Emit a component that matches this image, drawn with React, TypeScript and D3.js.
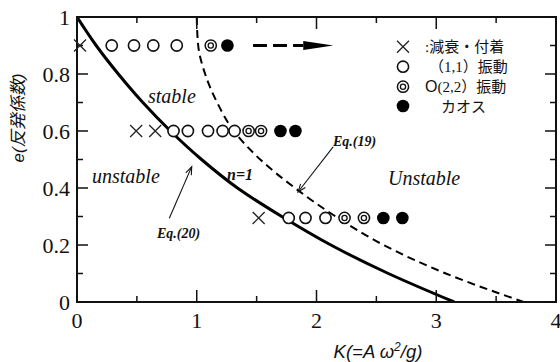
import React from "react";
import * as d3 from "d3";

// ---- data (K, e) ----
const solidK = [0, 0.16, 0.345, 0.55, 0.78, 1.04, 1.34, 1.71, 2.12, 2.6, 3.15];
const solidE = [1, 0.9, 0.8, 0.7, 0.6, 0.5, 0.4, 0.3, 0.2, 0.1, 0];
const dashK = [1.0, 1.012, 1.07, 1.17, 1.31, 1.53, 1.82, 2.16, 2.56, 3.08, 3.73];
const dashE = [1, 0.9, 0.8, 0.7, 0.6, 0.5, 0.4, 0.3, 0.2, 0.1, 0];

const crossK = [0.025, 0.494, 0.653, 1.517];
const crossE = [0.9, 0.6, 0.6, 0.295];
const circleK = [0.29, 0.476, 0.637, 0.833, 0.806, 0.926, 1.094, 1.216, 1.316, 1.768, 1.908, 2.075];
const circleE = [0.9, 0.9, 0.9, 0.9, 0.6, 0.6, 0.6, 0.6, 0.6, 0.295, 0.295, 0.295];
const doubleK = [1.117, 1.433, 1.537, 2.234, 2.396];
const doubleE = [0.9, 0.6, 0.6, 0.295, 0.295];
const chaosK = [1.256, 1.699, 1.824, 2.558, 2.717];
const chaosE = [0.9, 0.6, 0.6, 0.295, 0.295];

const xTicks = [0, 1, 2, 3, 4];
const xMinor = [0.5, 1.5, 2.5, 3.5];
const yTicks = [0, 0.2, 0.4, 0.6, 0.8, 1];
const yTickLabels = ["0", "0.2", "0.4", "0.6", "0.8", "1"];
const yMinor = [0.1, 0.3, 0.5, 0.7, 0.9];

const legendLabels = [":減衰・付着", "（1,1）振動", "(2,2）振動", "カオス"];

const arrowRow = { k0: 1.47, k1: 2.14, e: 0.9 };
const eq20Arrow = { k0: 0.771, e0: 0.294, k1: 0.958, e1: 0.475 };
const eq19Arrow = { k0: 2.139, e0: 0.544, k1: 1.846, e1: 0.386 };

const W = 560, H = 362;
const x = d3.scaleLinear().domain([0, 4]).range([77, 556]);
const y = d3.scaleLinear().domain([0, 1]).range([302, 17]);

const SERIF = "'Liberation Serif', 'Times New Roman', serif";
const SANS = "'Liberation Sans', Arial, sans-serif";
const CJK = "'Liberation Serif', 'Noto Sans CJK JP', serif";

const Cross = ({ cx, cy, s = 6 }: any) => (
  <path d={`M${cx - s},${cy - s}L${cx + s},${cy + s}M${cx - s},${cy + s}L${cx + s},${cy - s}`} stroke="#222" strokeWidth={1.3} fill="none" />
);
const Circ = ({ cx, cy }: any) => <circle cx={cx} cy={cy} r={5.6} fill="#fff" stroke="#111" strokeWidth={1.6} />;
const Dbl = ({ cx, cy }: any) => (
  <g>
    <circle cx={cx} cy={cy} r={5.6} fill="#fff" stroke="#111" strokeWidth={1.5} />
    <circle cx={cx} cy={cy} r={2.6} fill="none" stroke="#111" strokeWidth={1.3} />
  </g>
);
const Dot = ({ cx, cy }: any) => <circle cx={cx} cy={cy} r={6.3} fill="#000" />;

function arrowHead(x0: number, y0: number, x1: number, y1: number, len = 8, half = 3) {
  const a = Math.atan2(y1 - y0, x1 - x0);
  const bx = x1 - len * Math.cos(a), by = y1 - len * Math.sin(a);
  const px = -Math.sin(a) * half, py = Math.cos(a) * half;
  return `M${bx + px},${by + py}L${x1},${y1}L${bx - px},${by - py}`;
}

export default function App() {
  const line = d3
    .line<[number, number]>()
    .x((d) => x(d[0]))
    .y((d) => y(d[1]))
    .curve(d3.curveMonotoneY);
  const solidPts = solidK.map((k, i) => [k, solidE[i]] as [number, number]);
  const dashPts = dashK.map((k, i) => [k, dashE[i]] as [number, number]);

  const [x0, x1] = x.range();
  const [yb, yt] = y.range();

  const ax0 = x(arrowRow.k0), ax1 = x(arrowRow.k1), ay = y(arrowRow.e);
  const headStart = ax1 - 30;

  const e20 = [x(eq20Arrow.k0), y(eq20Arrow.e0), x(eq20Arrow.k1), y(eq20Arrow.e1)];
  const e19 = [x(eq19Arrow.k0), y(eq19Arrow.e0), x(eq19Arrow.k1), y(eq19Arrow.e1)];

  const legX = 403;
  const legY = [46.7, 66.7, 86.7, 106];
  const legTextX = [425, 429, 425, 441];

  return (
    <svg width={W} height={H} style={{ position: "absolute", left: 0, top: 0, background: "#fff" }}>
      <rect width={W} height={H} fill="#fff" />
      <defs>
        <clipPath id="plot">
          <rect x={x0} y={yt} width={x1 - x0} height={yb - yt} />
        </clipPath>
      </defs>

      {/* curves */}
      <g clipPath="url(#plot)">
        <path d={line(solidPts) || ""} fill="none" stroke="#000" strokeWidth={3} />
        <path d={line(dashPts) || ""} fill="none" stroke="#000" strokeWidth={2} strokeDasharray="8,5" />
      </g>

      {/* frame */}
      <rect x={x0} y={yt} width={x1 - x0} height={yb - yt} fill="none" stroke="#111" strokeWidth={2} />

      {/* ticks */}
      {xTicks.map((t) => (
        <g key={"xt" + t}>
          <line x1={x(t)} x2={x(t)} y1={yb} y2={yb - 12} stroke="#111" strokeWidth={1.5} />
          <line x1={x(t)} x2={x(t)} y1={yt} y2={yt + 12} stroke="#111" strokeWidth={1.5} />
          <text x={x(t)} y={328} textAnchor="middle" fontFamily={SERIF} fontSize={22} fill="#111">{t}</text>
        </g>
      ))}
      {xMinor.map((t) => (
        <g key={"xm" + t}>
          <line x1={x(t)} x2={x(t)} y1={yb} y2={yb - 6} stroke="#111" strokeWidth={1.5} />
          <line x1={x(t)} x2={x(t)} y1={yt} y2={yt + 6} stroke="#111" strokeWidth={1.5} />
        </g>
      ))}
      {yTicks.map((t, i) => (
        <g key={"yt" + t}>
          <line x1={x0} x2={x0 + 11} y1={y(t)} y2={y(t)} stroke="#111" strokeWidth={1.5} />
          <line x1={x1} x2={x1 - 11} y1={y(t)} y2={y(t)} stroke="#111" strokeWidth={1.5} />
          <text x={70} y={y(t) + 7.5} textAnchor="end" fontFamily={SERIF} fontSize={22} fill="#111">{yTickLabels[i]}</text>
        </g>
      ))}
      {yMinor.map((t) => (
        <g key={"ym" + t}>
          <line x1={x0} x2={x0 + 6} y1={y(t)} y2={y(t)} stroke="#111" strokeWidth={1.5} />
          <line x1={x1} x2={x1 - 6} y1={y(t)} y2={y(t)} stroke="#111" strokeWidth={1.5} />
        </g>
      ))}

      {/* markers */}
      {crossK.map((k, i) => <Cross key={"c" + i} cx={x(k)} cy={y(crossE[i])} />)}
      {circleK.map((k, i) => <Circ key={"o" + i} cx={x(k)} cy={y(circleE[i])} />)}
      {doubleK.map((k, i) => <Dbl key={"d" + i} cx={x(k)} cy={y(doubleE[i])} />)}
      {chaosK.map((k, i) => <Dot key={"f" + i} cx={x(k)} cy={y(chaosE[i])} />)}

      {/* dashed arrow on top row */}
      <line x1={ax0} x2={headStart} y1={ay} y2={ay} stroke="#000" strokeWidth={3.2} strokeDasharray="14,6" />
      <path d={`M${headStart},${ay - 4.5}L${ax1},${ay}L${headStart},${ay + 4.5}Z`} fill="#000" />

      {/* Eq arrows */}
      <line x1={e20[0]} y1={e20[1]} x2={e20[2]} y2={e20[3]} stroke="#111" strokeWidth={1.1} />
      <path d={arrowHead(e20[0], e20[1], e20[2], e20[3])} fill="none" stroke="#111" strokeWidth={1.1} />
      <line x1={e19[0]} y1={e19[1]} x2={e19[2]} y2={e19[3]} stroke="#111" strokeWidth={1.1} />
      <path d={arrowHead(e19[0], e19[1], e19[2], e19[3])} fill="none" stroke="#111" strokeWidth={1.1} />

      {/* annotations */}
      <text x={148} y={103} fontFamily={SERIF} fontStyle="italic" fontSize={20} fill="#111">stable</text>
      <text x={92} y={183} fontFamily={SERIF} fontStyle="italic" fontSize={20} fill="#111">unstable</text>
      <text x={388} y={185} fontFamily={SERIF} fontStyle="italic" fontSize={20} fill="#111">Unstable</text>
      <text x={227} y={180} fontFamily={SERIF} fontStyle="italic" fontWeight="bold" fontSize={16} fill="#111">n=1</text>
      <text x={157} y={238} fontFamily={SERIF} fontStyle="italic" fontWeight="bold" fontSize={14} fill="#111">Eq.(20)</text>
      <text x={333} y={146} fontFamily={SERIF} fontStyle="italic" fontWeight="bold" fontSize={14} fill="#111">Eq.(19)</text>

      {/* legend */}
      <Cross cx={legX} cy={legY[0]} />
      <Circ cx={legX} cy={legY[1]} />
      <Dbl cx={legX} cy={legY[2]} />
      <Dot cx={legX} cy={legY[3]} />
      {legendLabels.map((l, i) => (
        <text key={"l" + i} x={legTextX[i]} y={legY[i] + 5.5} fontFamily={CJK} fontSize={15} fill="#111">
          {i === 2 ? <tspan fontFamily={SANS} fontSize={16}>O</tspan> : null}
          {l}
        </text>
      ))}

      {/* axis titles */}
      <text x={378} y={358} textAnchor="middle" fontFamily={SANS} fontStyle="italic" fontSize={18.5} fill="#111">
        K(=A ω<tspan dy={-7} fontSize={12}>2</tspan><tspan dy={7}>/g)</tspan>
      </text>
      <text transform="translate(24,118) rotate(-90)" textAnchor="middle" fontFamily={"'Liberation Sans', 'Noto Sans CJK JP', sans-serif"} fontStyle="italic" fontSize={17} fill="#111">
        e(反発係数)
      </text>
    </svg>
  );
}
